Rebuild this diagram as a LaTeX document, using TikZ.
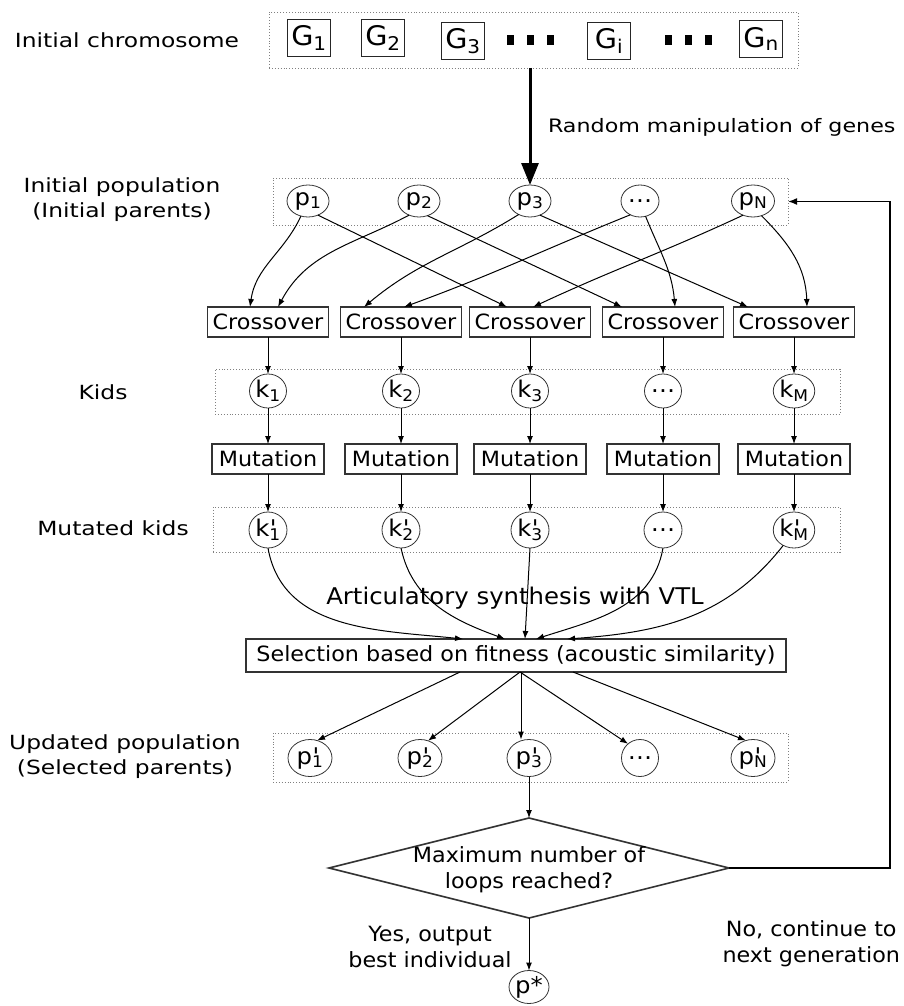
\documentclass[tikz,border=0pt]{standalone}
\usepackage{fontspec}
\setmainfont{DejaVu Sans}[FakeStretch=1.06]
\newfontfamily\sidefont{DejaVu Sans}[FakeStretch=1.2]
\usetikzlibrary{arrows.meta,shapes.geometric,calc}

% individual with a prime: k'_1
\newcommand\primed[2]{#1\rlap{\kern0.5pt\textquotesingle}\textsubscript{#2}}

\begin{document}
\begin{tikzpicture}[x=1pt,y=-1pt,
  every node/.style={inner sep=0pt, outer sep=0pt},
  nodetext/.style={font=\fontsize{21}{26}\selectfont},
  indtext/.style={font=\fontsize{23}{26}\selectfont},
  side/.style={font=\sidefont\fontsize{19.5}{25}\selectfont, align=center},
  gene/.style={draw=black!85, line width=1pt, minimum width=43pt, minimum height=37pt,
    font=\fontsize{27}{30}\selectfont},
  opbox/.style={draw=black!80, line width=1.6pt, minimum height=30pt, nodetext},
  indiv/.style={ellipse, draw=black!80, line width=0.8pt, minimum width=40pt,
    minimum height=33pt, indtext},
  rowbox/.style={draw=black!50, dotted, line width=0.9pt},
  arr/.style={-{Latex[length=8pt,width=6pt]}, line width=1pt},
  dotsq/.style={fill=black, minimum width=7pt, minimum height=10pt},
]
\useasboundingbox (0,0) rectangle (904,1006);

% ---------- initial chromosome ----------
\node[side] (lblchrom) at (127,40) {Initial chromosome};
\node[rowbox, minimum width=529pt, minimum height=56pt] (chrom) at (533.5,40) {};
\node[gene] (g1) at (309,38) {G\textsubscript{1}};
\node[gene] (g2) at (383,38) {G\textsubscript{2}};
\node[gene] (g3) at (463,41) {G\textsubscript{3}};
\node[gene] (gi) at (609,41) {G\textsubscript{i}};
\node[gene] (gn) at (761,39) {G\textsubscript{n}};
\node[dotsq] (da1) at (510,40) {};
\node[dotsq] (da2) at (530,40) {};
\node[dotsq] (da3) at (550,40) {};
\node[dotsq] (db1) at (668,40) {};
\node[dotsq] (db2) at (688,40) {};
\node[dotsq] (db3) at (708,40) {};

\node[font=\sidefont\fontsize{18.5}{24}\selectfont, anchor=west] (lblrand) at (548,127)
  {Random manipulation of genes};

% ---------- initial population ----------
\node[side] (lblpop) at (122,200) {Initial population\\(Initial parents)};
\node[rowbox, minimum width=515pt, minimum height=47pt] (popbox) at (530.5,201.5) {};
\node[indiv, minimum width=42pt, minimum height=32pt] (p1) at (308,201) {p\textsubscript{1}};
\node[indiv, minimum width=42pt, minimum height=32pt] (p2) at (419,201) {p\textsubscript{2}};
\node[indiv, minimum width=42pt, minimum height=32pt] (p3) at (530,201) {p\textsubscript{3}};
\node[indiv, minimum width=38pt, minimum height=32pt] (pd) at (640,201) {\ldots};
\node[indiv, minimum width=43pt, minimum height=32pt] (pN) at (753,201) {p\textsubscript{N}};

\draw[line width=3pt, -{Triangle[length=22pt,width=17pt]}] (chrom.south -| p3) -- (p3.north);

% ---------- crossover ----------
\foreach \i/\x in {1/268,2/401,3/530,4/663,5/794}
  \node[opbox, minimum width=121pt] (c\i) at (\x,322) {Crossover};

\draw[arr] (p1.245) to[out=-115,in=82] ([xshift=-18pt]c1.north);
\draw[arr] (p1.305) -- ([xshift=-23pt]c3.north);
\draw[arr] (p2.235) to[out=-152,in=62] ([xshift=10pt]c1.north);
\draw[arr] (p2.300) -- ([xshift=-41pt]c4.north);
\draw[arr] (p3.230) to[out=-148,in=40] ([xshift=-37pt]c2.north);
\draw[arr] (p3.305) -- ([xshift=-46pt]c5.north);
\draw[arr] (pd.235) to[out=-158,in=20] ([xshift=3pt]c2.north);
\draw[arr] (pd.290) to[out=-68,in=95] ([xshift=12pt]c4.north);
\draw[arr] (pN.235) to[out=-155,in=25] ([xshift=3pt]c3.north);
\draw[arr] (pN.300) to[out=-45,in=92] ([xshift=13pt]c5.north);

% ---------- kids ----------
\node[side] (lblkids) at (103,392) {Kids};
\node[rowbox, minimum width=625pt, minimum height=45pt] (kidbox) at (527.5,391.5) {};
\node[indiv, minimum width=37pt, minimum height=34pt] (k1) at (268,391) {k\textsubscript{1}};
\node[indiv, minimum width=37pt, minimum height=34pt] (k2) at (401,391) {k\textsubscript{2}};
\node[indiv, minimum width=37pt, minimum height=34pt] (k3) at (530,391) {k\textsubscript{3}};
\node[indiv, minimum width=37pt, minimum height=34pt] (kd) at (663,391) {\ldots};
\node[indiv, minimum width=37pt, minimum height=34pt] (kM) at (794,391) {k\textsubscript{M}};

% ---------- mutation ----------
\foreach \i/\x in {1/268,2/401,3/530,4/663,5/794}
  \node[opbox, minimum width=112pt] (m\i) at (\x,459) {Mutation};

% ---------- mutated kids ----------
\node[side] (lblmut) at (113,528) {Mutated kids};
\node[rowbox, minimum width=627pt, minimum height=45pt] (kkbox) at (526.5,529.5) {};
\node[indiv, minimum width=38pt, minimum height=36pt] (kk1) at (268,530) {\primed{k}{1}};
\node[indiv, minimum width=38pt, minimum height=36pt] (kk2) at (401,530) {\primed{k}{2}};
\node[indiv, minimum width=38pt, minimum height=36pt] (kk3) at (530,530) {\primed{k}{3}};
\node[indiv, minimum width=38pt, minimum height=36pt] (kkd) at (663,530) {\ldots};
\node[indiv, minimum width=40pt, minimum height=36pt] (kkM) at (794,530) {\primed{k}{M}};

\foreach \i/\k/\kk in {1/k1/kk1,2/k2/kk2,3/k3/kk3,4/kd/kkd,5/kM/kkM}{
  \draw[arr] (c\i.south) -- (\k.north);
  \draw[arr] (\k.south) -- (m\i.north);
  \draw[arr] (m\i.south) -- (\kk.north);
}

% ---------- selection ----------
\node[font=\fontsize{23}{26}\selectfont] (lblsynth) at (515,598) {Articulatory synthesis with VTL};
\node[opbox, minimum width=540pt, minimum height=33pt] (sel) at (516,655.5)
  {Selection based on fitness (acoustic similarity)};

\draw[arr] (kk1.south) to[out=-80,in=174] ([xshift=-53pt]sel.north);
\draw[arr] (kk2.south) to[out=-78,in=160] ([xshift=-11pt]sel.north);
\draw[arr] (kk3.south) -- ([xshift=9pt]sel.north);
\draw[arr] (kkd.south) to[out=-100,in=18] ([xshift=20pt]sel.north);
\draw[arr] (kkM.235) to[out=-128,in=4] ([xshift=51pt]sel.north);

% ---------- updated population ----------
\node[side] (lblupd) at (125,757) {Updated population\\(Selected parents)};
\node[rowbox, minimum width=515pt, minimum height=49pt] (ppbox) at (530.5,757.5) {};
\node[indiv, minimum width=44pt, minimum height=37pt] (pp1) at (310,758) {\primed{p}{1}};
\node[indiv, minimum width=44pt, minimum height=37pt] (pp2) at (420,758) {\primed{p}{2}};
\node[indiv, minimum width=44pt, minimum height=37pt] (pp3) at (529,758) {\primed{p}{3}};
\node[indiv, minimum width=37pt, minimum height=37pt] (ppd) at (640,758) {\ldots};
\node[indiv, minimum width=44pt, minimum height=37pt] (ppN) at (753,758) {\primed{p}{N}};

\draw[arr] ([xshift=-56pt]sel.south) -- (pp1.68);
\draw[arr] ([xshift=4pt]sel.south) -- (pp2.65);
\draw[arr] ([xshift=5pt]sel.south) -- ([xshift=5pt]sel.south |- pp3.north);
\draw[arr] ([xshift=4pt]sel.south) -- (ppd.130);
\draw[arr] ([xshift=57pt]sel.south) -- (ppN.112);

% ---------- termination test ----------
\node[diamond, draw=black!80, line width=1.6pt, minimum width=400pt, minimum height=100pt,
  aspect=4] (dia) at (529,868) {};
\node[nodetext, align=center] (diatext) at (529,870) {Maximum number of\\loops reached?};
\draw[arr] (pp3.south) -- (dia.north);

\node[indiv, minimum width=40pt, minimum height=33pt] (pstar) at (529,987) {p*};
\draw[arr] (dia.south) -- (pstar.north);
\node[nodetext, align=center] (lblyes) at (430,947) {Yes, output\\best individual};

\coordinate (loopc) at (890,868);
\draw[-{Latex[length=9pt,width=7pt]}, line width=1.6pt] (dia.east) -- (loopc) |- (popbox.east);
\node[nodetext, align=center, anchor=east] (lblno) at (900,944) {No, continue to\\next generation};

\end{tikzpicture}
\end{document}
